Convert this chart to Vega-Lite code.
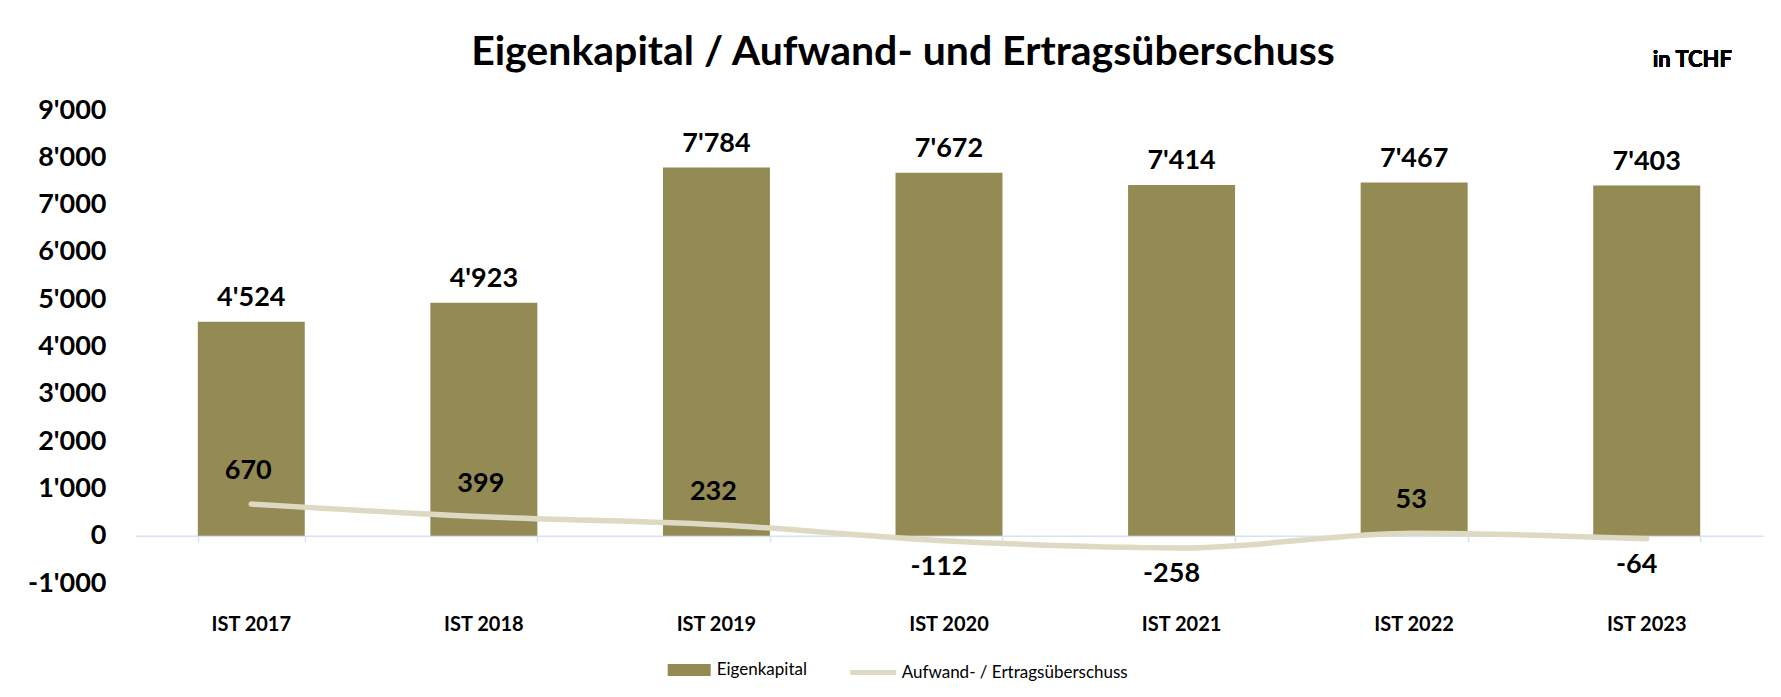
{
  "$schema": "https://vega.github.io/schema/vega-lite/v6.json",
  "width": 1628,
  "height": 473,
  "autosize": {"type": "none"},
  "padding": {"left": 135, "top": 110, "right": 18, "bottom": 114},
  "background": "white",
  "title": {
    "text": "Eigenkapital / Aufwand- und Ertragsüberschuss",
    "font": "Lato",
    "fontSize": 41,
    "fontWeight": "bold",
    "color": "#000000",
    "anchor": "middle",
    "frame": "group",
    "baseline": "alphabetic",
    "offset": -57,
    "dx": -46
  },
  "config": {
    "view": {"stroke": null},
    "locale": {"number": {"decimal": ".", "thousands": "'", "grouping": [3], "currency": ["", ""], "minus": "-"}},
    "axis": {"labelFont": "Lato", "labelColor": "#000000", "labelFontWeight": "bold", "grid": false, "title": null},
    "axisY": {"orient": "left", "domain": false, "ticks": false, "tickSize": 0, "labelPadding": 29, "labelFontSize": 27, "labelBaseline": "middle"}
  },
  "data": {
    "values": [
      {"jahr": "IST 2017", "eigenkapital": 4524, "ueberschuss": 670},
      {"jahr": "IST 2018", "eigenkapital": 4923, "ueberschuss": 399},
      {"jahr": "IST 2019", "eigenkapital": 7784, "ueberschuss": 232},
      {"jahr": "IST 2020", "eigenkapital": 7672, "ueberschuss": -112},
      {"jahr": "IST 2021", "eigenkapital": 7414, "ueberschuss": -258},
      {"jahr": "IST 2022", "eigenkapital": 7467, "ueberschuss": 53},
      {"jahr": "IST 2023", "eigenkapital": 7403, "ueberschuss": -64}
    ]
  },
  "resolve": {"axis": {"x": "independent"}},
  "layer": [
    {
      "mark": {"type": "bar"},
      "encoding": {
        "x": {
          "field": "jahr", "type": "nominal", "sort": null,
          "scale": {"type": "band", "paddingInner": 0.54, "paddingOuter": 0.27},
          "axis": {"orient": "bottom", "offset": -47.3, "labels": false, "domain": true, "domainColor": "#D6E2F2", "domainWidth": 1.5, "ticks": true, "tickColor": "#D6E2F2", "tickWidth": 1.5, "tickSize": 6, "tickBand": "extent", "title": null}
        },
        "y": {
          "field": "eigenkapital", "type": "quantitative",
          "scale": {"domain": [-1000, 9000], "nice": false, "zero": false},
          "axis": {"orient": "left", "values": [-1000, 0, 1000, 2000, 3000, 4000, 5000, 6000, 7000, 8000, 9000], "format": ",d", "title": null}
        },
        "fill": {
          "datum": "Eigenkapital",
          "scale": {"domain": ["Eigenkapital"], "range": ["#948A54"]},
          "legend": {
            "orient": "none", "legendX": 532.7, "legendY": 538.5, "padding": 0, "title": null,
            "symbolType": "M-1,-0.28H1V0.28H-1Z", "symbolSize": 1849, "symbolStrokeWidth": 0,
            "labelFont": "Lato", "labelFontSize": 17, "labelColor": "#000000", "labelOffset": 6, "labelLimit": 500
          }
        }
      }
    },
    {
      "mark": {"type": "line", "strokeWidth": 5.5, "strokeCap": "round", "strokeJoin": "round", "interpolate": "monotone"},
      "encoding": {
        "x": {
          "field": "jahr", "type": "nominal", "sort": null,
          "axis": {"orient": "bottom", "domain": false, "ticks": false, "tickSize": 0, "labelPadding": 41, "labelBaseline": "middle", "labelFontSize": 20, "labelAngle": 0, "title": null}
        },
        "y": {"field": "ueberschuss", "type": "quantitative", "axis": {"orient": "left", "values": [-1000, 0, 1000, 2000, 3000, 4000, 5000, 6000, 7000, 8000, 9000], "format": ",d", "title": null}},
        "stroke": {
          "datum": "Aufwand- / Ertragsüberschuss",
          "scale": {"domain": ["Aufwand- / Ertragsüberschuss"], "range": ["#DDD9C3"]},
          "legend": {
            "orient": "none", "legendX": 712.7, "legendY": 537, "padding": 0, "title": null,
            "symbolType": "stroke", "symbolSize": 2116, "symbolStrokeWidth": 5,
            "labelFont": "Lato", "labelFontSize": 17, "labelColor": "#000000", "labelOffset": 3, "labelLimit": 500
          }
        }
      }
    },
    {
      "mark": {"type": "text", "font": "Lato", "fontSize": 27, "fontWeight": "bold", "color": "#000000", "baseline": "alphabetic", "dy": -16},
      "encoding": {
        "x": {"field": "jahr", "type": "nominal", "sort": null, "axis": null},
        "y": {"field": "eigenkapital", "type": "quantitative", "axis": {"orient": "left", "values": [-1000, 0, 1000, 2000, 3000, 4000, 5000, 6000, 7000, 8000, 9000], "format": ",d", "title": null}},
        "text": {"field": "eigenkapital", "type": "quantitative", "format": ",d"}
      }
    },
    {
      "transform": [{"filter": "datum.ueberschuss >= 0"}],
      "mark": {"type": "text", "font": "Lato", "fontSize": 27, "fontWeight": "bold", "color": "#000000", "baseline": "middle", "dy": -33, "dx": -3},
      "encoding": {
        "x": {"field": "jahr", "type": "nominal", "sort": null, "axis": null},
        "y": {"field": "ueberschuss", "type": "quantitative", "axis": {"orient": "left", "values": [-1000, 0, 1000, 2000, 3000, 4000, 5000, 6000, 7000, 8000, 9000], "format": ",d", "title": null}},
        "text": {"field": "ueberschuss", "type": "quantitative", "format": ",d"}
      }
    },
    {
      "transform": [{"filter": "datum.ueberschuss < 0"}],
      "mark": {"type": "text", "font": "Lato", "fontSize": 27, "fontWeight": "bold", "color": "#000000", "baseline": "middle", "dy": 26, "dx": -10},
      "encoding": {
        "x": {"field": "jahr", "type": "nominal", "sort": null, "axis": null},
        "y": {"field": "ueberschuss", "type": "quantitative", "axis": {"orient": "left", "values": [-1000, 0, 1000, 2000, 3000, 4000, 5000, 6000, 7000, 8000, 9000], "format": ",d", "title": null}},
        "text": {"field": "ueberschuss", "type": "quantitative", "format": ",d"}
      }
    },
    {
      "mark": {"type": "text", "font": "Lato", "fontSize": 22, "fontWeight": "bold", "color": "#000000", "baseline": "alphabetic", "align": "left", "dx": 6, "dy": -43},
      "encoding": {
        "x": {"datum": "IST 2023", "type": "nominal", "axis": null},
        "y": {"datum": 9000, "type": "quantitative", "axis": {"orient": "left", "values": [-1000, 0, 1000, 2000, 3000, 4000, 5000, 6000, 7000, 8000, 9000], "format": ",d", "title": null}},
        "text": {"value": "in TCHF"}
      }
    }
  ]
}
